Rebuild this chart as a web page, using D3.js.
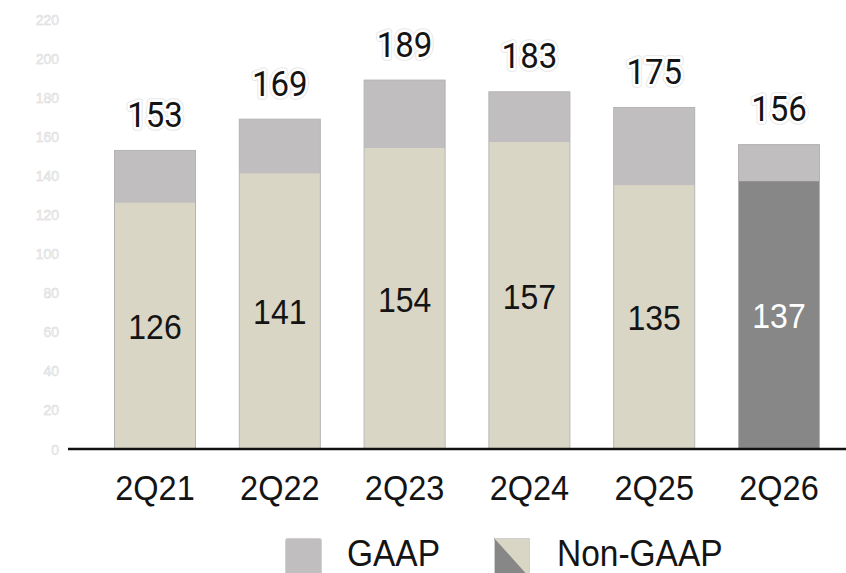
<!DOCTYPE html>
<html>
<head>
<meta charset="utf-8">
<script src="https://cdn.jsdelivr.net/npm/d3@7"></script>
<style>
  html, body { margin: 0; padding: 0; background: #fff; }
  svg { display: block; }
</style>
</head>
<body>
<svg id="chart" width="846" height="573"></svg>
<script>
// Quarterly figures, GAAP vs Non-GAAP
const quarters = ["2Q21", "2Q22", "2Q23", "2Q24", "2Q25", "2Q26"];
const gaapValues = [153, 169, 189, 183, 175, 156];
const nonGaapValues = [126, 141, 154, 157, 135, 137];
const yTicks = [0, 20, 40, 60, 80, 100, 120, 140, 160, 180, 200, 220];
const legendLabels = ["GAAP", "Non-GAAP"];

const colGaap = "#c0bebf";
const colNonGaap = "#d9d6c6";
const colNonGaapLatest = "#878787";
const colBorder = "#b3b3b3";
const TALL = 1.09; // slightly tall lettering

const svg = d3.select("#chart");

const x = d3.scaleBand()
  .domain(quarters)
  .range([114, 820])
  .paddingInner(0.343)
  .paddingOuter(0);

const y = d3.scaleLinear()
  .domain([0, 220])
  .range([449, 19]);

// faint outlined y-axis labels
const yAxis = d3.axisLeft(y).tickValues(yTicks).tickSize(0).tickPadding(0);
const yG = svg.append("g")
  .attr("transform", "translate(59,0)")
  .call(yAxis);
yG.select(".domain").remove();
yG.selectAll("text")
  .attr("font-family", "Liberation Sans, Arial, sans-serif")
  .attr("font-size", 14)
  .attr("fill", "#fbfbfb")
  .attr("stroke", "#d4d4d4")
  .attr("stroke-width", 0.5)
  .attr("dy", "0.36em");

const data = quarters.map((q, i) => ({ q, gaap: gaapValues[i], non: nonGaapValues[i], last: i === quarters.length - 1 }));
const cx = d => x(d.q) + x.bandwidth() / 2;

// GAAP bars (full height)
svg.append("g").selectAll("rect")
  .data(data).join("rect")
  .attr("x", d => x(d.q) + 0.5)
  .attr("y", d => y(d.gaap) + 0.5)
  .attr("width", x.bandwidth() - 1)
  .attr("height", d => y(0) - y(d.gaap) - 0.5)
  .attr("fill", colGaap)
  .attr("stroke", colBorder)
  .attr("stroke-width", 1);

// Non-GAAP bars overlaid
svg.append("g").selectAll("rect")
  .data(data).join("rect")
  .attr("x", d => x(d.q) + 1)
  .attr("y", d => y(d.non))
  .attr("width", x.bandwidth() - 2)
  .attr("height", d => y(0) - y(d.non))
  .attr("fill", d => d.last ? colNonGaapLatest : colNonGaap);

// baseline
svg.append("line")
  .attr("x1", 68).attr("x2", 846)
  .attr("y1", y(0)).attr("y2", y(0))
  .attr("stroke", "#111").attr("stroke-width", 2.5);

// GAAP value labels with soft halo
const topLabels = svg.append("g").selectAll("g")
  .data(data).join("g")
  .attr("transform", d => `translate(${cx(d)},${y(d.gaap) - 23}) scale(1,${TALL})`);
topLabels.append("text")
  .attr("text-anchor", "middle")
  .attr("font-family", "Roboto, sans-serif")
  .attr("font-size", 33)
  .attr("fill", "none")
  .attr("stroke", "#e8e8e8")
  .attr("stroke-width", 7)
  .attr("stroke-linejoin", "round")
  .text(d => d.gaap);
topLabels.append("text")
  .attr("text-anchor", "middle")
  .attr("font-family", "Roboto, sans-serif")
  .attr("font-size", 33)
  .attr("fill", "#141414")
  .attr("stroke", "#ffffff")
  .attr("stroke-width", 5)
  .attr("stroke-linejoin", "round")
  .attr("paint-order", "stroke")
  .text(d => d.gaap);

// Non-GAAP value labels inside bars
svg.append("g").selectAll("text")
  .data(data).join("text")
  .attr("transform", d => `translate(${cx(d)},${(y(d.non) + y(0)) / 2 + 13}) scale(1,${TALL})`)
  .attr("text-anchor", "middle")
  .attr("font-family", "Liberation Sans, Arial, sans-serif")
  .attr("font-size", 32)
  .attr("fill", d => d.last ? "#ffffff" : "#141414")
  .text(d => d.non);

// category labels
svg.append("g").selectAll("text")
  .data(quarters).join("text")
  .attr("transform", d => `translate(${x(d) + x.bandwidth() / 2},500) scale(1,${TALL})`)
  .attr("text-anchor", "middle")
  .attr("font-family", "Liberation Sans, Arial, sans-serif")
  .attr("font-size", 32.5)
  .attr("fill", "#141414")
  .text(d => d);

// legend
const legend = svg.append("g");
legend.append("rect")
  .attr("x", 285.5).attr("y", 538.5).attr("width", 36).attr("height", 40)
  .attr("rx", 2)
  .attr("fill", colGaap).attr("stroke", "#d0d0d0");
legend.append("text")
  .attr("transform", `translate(347,565.5) scale(1,${TALL})`)
  .attr("font-family", "Liberation Sans, Arial, sans-serif")
  .attr("font-size", 33.5)
  .attr("fill", "#141414")
  .text(legendLabels[0]);

const sw = legend.append("g").attr("transform", "translate(494,538)");
sw.append("rect").attr("width", 36).attr("height", 40).attr("fill", colNonGaap);
sw.append("path").attr("d", "M0,0 L36,40 L0,40 Z").attr("fill", colNonGaapLatest);
sw.append("rect").attr("x", 0.5).attr("y", 0.5).attr("width", 35).attr("height", 40)
  .attr("rx", 2).attr("fill", "none").attr("stroke", "#cfcfcf");
legend.append("text")
  .attr("transform", `translate(557,565.5) scale(1,${TALL})`)
  .attr("font-family", "Liberation Sans, Arial, sans-serif")
  .attr("font-size", 33.5)
  .attr("fill", "#141414")
  .text(legendLabels[1]);
</script>
</body>
</html>
